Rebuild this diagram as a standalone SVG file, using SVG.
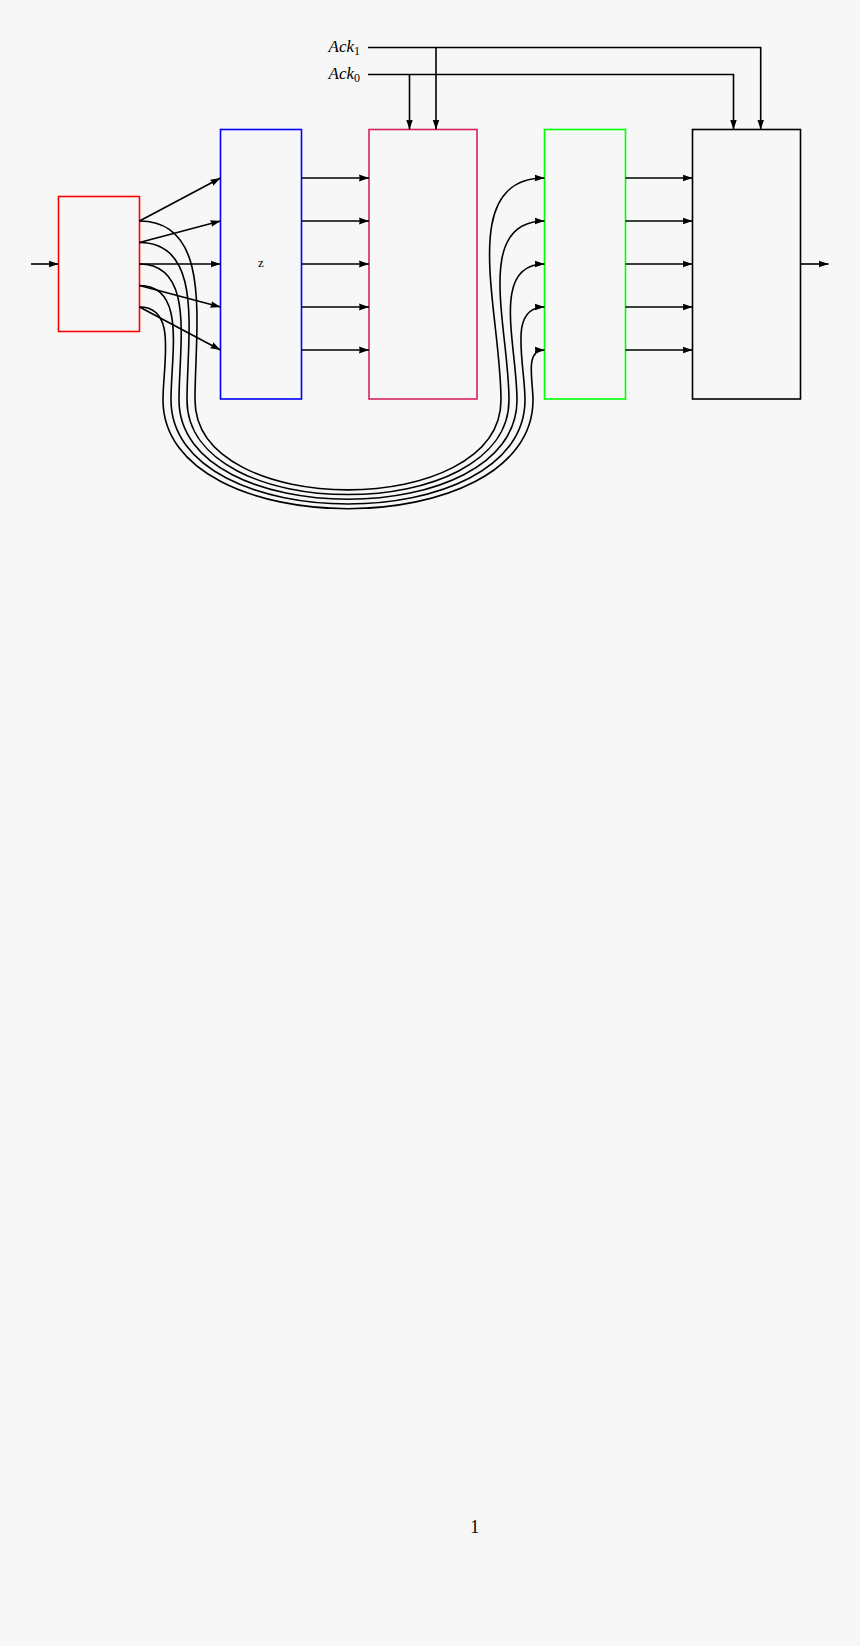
<svg xmlns="http://www.w3.org/2000/svg" width="860" height="1646" viewBox="0 0 860 1646">
<defs>
<marker id="ah" markerUnits="userSpaceOnUse" markerWidth="12" markerHeight="10" viewBox="-10 -5 12 10" refX="0" refY="0" orient="auto">
<path d="M0,0 L-10,-3.4 Q-8.6,0 -10,3.4 Z" fill="#000"/>
</marker>
</defs>
<style>
.box{fill:none;stroke-width:1.6}
.w{fill:none;stroke:#000;stroke-width:1.6;marker-end:url(#ah)}
.lbl{font-family:"Liberation Serif",serif;fill:#000}
</style>
<rect x="0" y="0" width="860" height="1646" fill="#f7f7f7"/>
<g id="red"><rect class="box" x="58.5" y="196.5" width="81" height="135" stroke="#ff0000"/></g>
<g id="blue"><rect class="box" x="220.5" y="129.5" width="81" height="269.5" stroke="#0000ff"/><text class="lbl" x="261" y="267" font-size="13" text-anchor="middle">z</text></g>
<g id="pink"><rect class="box" x="369" y="129.5" width="108" height="269.5" stroke="#d4245c"/></g>
<g id="green"><rect class="box" x="544.5" y="129.5" width="81" height="269.5" stroke="#00ff00"/></g>
<g id="black"><rect class="box" x="692.5" y="129.5" width="108" height="269.5" stroke="#000"/></g>
<g id="labels">
<text class="lbl" x="360" y="52" font-size="17" text-anchor="end"><tspan font-style="italic">Ack</tspan><tspan font-size="12" dy="3">1</tspan></text>
<text class="lbl" x="360" y="79" font-size="17" text-anchor="end"><tspan font-style="italic">Ack</tspan><tspan font-size="12" dy="3">0</tspan></text>
<text class="lbl" x="474.7" y="1533" font-size="18" text-anchor="middle">1</text>
</g>
<g id="connectors">
<path class="w" d="M31,264 H58.5"/>
<path class="w" d="M800.5,264 H828.5"/>
<path class="w" d="M139.5,221 L220.5,178"/>
<path class="w" d="M139.5,242.5 L220.5,221"/>
<path class="w" d="M139.5,264 L220.5,264"/>
<path class="w" d="M139.5,285.5 L220.5,307"/>
<path class="w" d="M139.5,307 L220.5,350"/>
<path class="w" d="M301.5,178 H369"/>
<path class="w" d="M301.5,221 H369"/>
<path class="w" d="M301.5,264 H369"/>
<path class="w" d="M301.5,307 H369"/>
<path class="w" d="M301.5,350 H369"/>
<path class="w" d="M625.5,178 H692.5"/>
<path class="w" d="M625.5,221 H692.5"/>
<path class="w" d="M625.5,264 H692.5"/>
<path class="w" d="M625.5,307 H692.5"/>
<path class="w" d="M625.5,350 H692.5"/>
<path class="w" d="M368,47.5 H760.7 V129.5"/>
<path class="w" d="M436,47.5 V129.5"/>
<path class="w" d="M368,74.5 H733.5 V129.5"/>
<path class="w" d="M409.5,74.5 V129.5"/>
<path class="w" d="M139.5,221 C213.3,221 195,326.7 195,400 C195,519.8 501,519.8 501,400 C501,311.4 455.9,178 544.5,178"/>
<path class="w" d="M139.5,242.5 C204.4,242.5 187,335.6 187,400 C187,526.1 509,526.1 509,400 C509,328.6 473.1,221 544.5,221"/>
<path class="w" d="M139.5,264 C195.4,264 179,344.6 179,400 C179,532.3 517,532.3 517,400 C517,345.7 490.2,264 544.5,264"/>
<path class="w" d="M139.5,285.5 C186.4,285.5 171,353.6 171,400 C171,538.6 525,538.6 525,400 C525,362.8 507.3,307 544.5,307"/>
<path class="w" d="M139.5,307 C177.5,307 163,362.5 163,400 C163,544.9 533,544.9 533,400 C533,379.9 524.4,350 544.5,350"/>
</g>
</svg>
